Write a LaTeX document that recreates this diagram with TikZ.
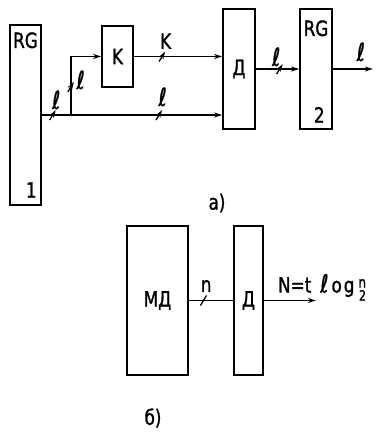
\documentclass[tikz,border=0pt]{standalone}
\usepackage{fontspec}
\setmainfont[FakeStretch=0.8,FakeBold=1.2]{DejaVu Sans}
\usetikzlibrary{
    arrows.meta,
    calc,
    positioning
}
\tikzstyle{block}=[
    rectangle,
    draw,
    line width=1.7pt,
    inner sep=0pt,
    font=\fontsize{21}{23}\selectfont
]
\tikzstyle{tag}=[inner sep=1pt,font=\fontsize{21}{23}\selectfont]
\tikzstyle{ell}=[inner sep=1pt,font=\fontsize{25}{27}\selectfont]
\tikzstyle{wire}=[line width=1.4pt]
\tikzstyle{arrow}=[wire,-{Stealth[length=8pt,width=5pt]}]
\tikzset{busmark/.pic={\draw[line width=1.3pt] (-3,5) -- (3,-5);}}

\begin{document}
\begin{tikzpicture}[x=1pt,y=-1pt]
\useasboundingbox (0,0) rectangle (388,442);
% scheme a)
\node[block,minimum width=31,minimum height=180] (rg1) at (25.5,115) {};
\node[tag,below=7pt of rg1.north] (rg1name) {RG};
\node[tag,above left=7pt and 4pt of rg1.south east] (rg1num) {1};
\node[block,minimum width=31,minimum height=61] (k) at (117.5,56.5) {K};
\node[block,minimum width=32,minimum height=120] (dA) at (239,69) {Д};
\node[block,minimum width=32,minimum height=120] (rg2) at (316,69) {};
\node[tag,below=11pt of rg2.north] (rg2name) {RG};
\node[tag,above left=6pt and 7pt of rg2.south east] (rg2num) {2};
\coordinate (br) at ($(rg1.east)+(29,0)$);
\coordinate (outA) at ($(rg2.east)+(40,0)$);

\draw[arrow] (rg1.east) -- (rg1.east -| dA.west)
    pic[pos=0.06]{busmark} node[ell,pos=0.08,above=4pt]{ℓ}
    pic[pos=0.65]{busmark} node[ell,pos=0.67,above=7pt]{ℓ};
\draw[arrow] (br) |- (k.west)
    pic[pos=0.24]{busmark} node[ell,pos=0.3,right=4pt]{ℓ};
\draw[arrow] (k.east) -- (k.east -| dA.west)
    pic[pos=0.32]{busmark} node[tag,pos=0.36,above=6pt]{K};
\draw[arrow] (dA) -- (rg2)
    pic[pos=0.55]{busmark} node[ell,pos=0.47,above=1pt]{ℓ};
\draw[arrow] (rg2.east) -- (outA) node[ell,pos=0.7,above=6pt]{ℓ};
\node[tag] (capA) at (217,203) {а)};

% scheme b)
\node[block,minimum width=61,minimum height=149] (md) at (157.5,300.5) {МД};
\node[block,minimum width=29,minimum height=149] (dB) at (248.5,300.5) {Д};
\coordinate (outB) at ($(dB.east)+(52,0)$);
\draw[wire] (md) -- (dB)
    pic[pos=0.33]{busmark} node[tag,pos=0.39,above=7pt]{n};
\draw[arrow] (dB) -- (outB);
\node[tag,anchor=base west] (formula) at ($(dB.east)+(13,-8)$)
    {N=t\kern9pt{\fontsize{25}{27}\selectfont ℓ}\kern3pt o\kern2pt g\kern4pt\raisebox{5pt}{\fontsize{15}{15}\selectfont n}\llap{\raisebox{-8pt}{\fontsize{14}{14}\selectfont 2}}};
\node[tag] (capB) at (153,418) {б)};
\end{tikzpicture}
\end{document}
